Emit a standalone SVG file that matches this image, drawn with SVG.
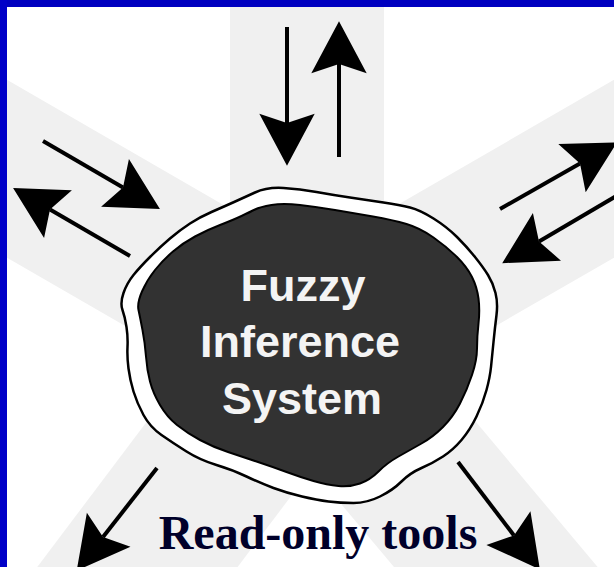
<svg xmlns="http://www.w3.org/2000/svg" width="614" height="567" viewBox="0 0 614 567">
  <defs>
    <style>
      .band { fill: #f0f0f0; }
      .shaft { stroke: #000; stroke-width: 4; fill: none; marker-end: url(#head); }
      .label { font-family: "Liberation Sans", Arial, sans-serif; font-weight: bold; font-size: 45px; fill: #f4f4f4; text-anchor: middle; }
      .caption { font-family: "Liberation Serif", "Times New Roman", serif; font-weight: bold; font-size: 48px; fill: #00002a; text-anchor: middle; }
    </style>
    <!-- barbed arrowhead; origin sits at the notch where the shaft ends -->
    <marker id="head" markerUnits="userSpaceOnUse" markerWidth="60" markerHeight="60" viewBox="-10 -26 50 52" refX="0" refY="0" orient="auto" overflow="visible">
      <path d="M37,0 L-8,-24 L0,0 L-8,24 Z" fill="#000"/>
    </marker>
  </defs>

  <rect width="614" height="567" fill="#ffffff"/>

  <!-- radiating light bands behind the hub -->
  <g id="bands">
    <rect class="band" x="-77" y="-700" width="154" height="700" transform="translate(307,342)"/>
    <rect class="band" x="-77" y="-700" width="154" height="700" transform="translate(307,342) rotate(-60)"/>
    <rect class="band" x="-77" y="-700" width="154" height="700" transform="translate(307,346) rotate(60)"/>
    <rect class="band" x="-80" y="-700" width="160" height="700" transform="translate(307,342) rotate(-143)"/>
    <rect class="band" x="-78" y="-700" width="156" height="700" transform="translate(307,342) rotate(140)"/>
  </g>

  <!-- frame edges -->
  <rect x="0" y="0" width="614" height="7" fill="#0000c0"/>
  <rect x="0" y="0" width="7" height="567" fill="#0000c8"/>

  <g id="connectors">
    <line class="shaft" x1="287" y1="27" x2="287" y2="123"/>
    <line class="shaft" x1="339" y1="157" x2="339" y2="64"/>
    <line class="shaft" x1="43" y1="141" x2="123" y2="187.5"/>
    <line class="shaft" x1="130" y1="256" x2="50" y2="209.5"/>
    <line class="shaft" x1="500" y1="209" x2="580" y2="163.5"/>
    <line class="shaft" x1="618" y1="195" x2="539" y2="241.5"/>
    <line class="shaft" x1="157" y1="468" x2="103" y2="537"/>
    <line class="shaft" x1="458" y1="462" x2="514" y2="535.5"/>
  </g>

  <g id="fis">
    <!-- outer wavy rim -->
    <path fill="#ffffff" stroke="#000" stroke-width="2.5" stroke-linejoin="round" d="
      M255,192.5 Q267,187 283.5,188 Q300,189 316.5,192 Q333,195 350,197.5 Q367,200 383.5,202.5
      Q400,205 410,207.5 Q420,210 433.5,218.5 Q447,227 457,237 Q467,247 475,257 Q483,267 488,275
      Q493,283 495.5,293 Q498,303 496.5,315 Q495,327 493.5,342 Q492,357 491,367 Q490,377 486.5,390
      Q483,403 476.5,416.5 Q470,430 461.5,440 Q453,450 443,456.5 Q433,463 421.5,468 Q410,473 401.5,481.5
      Q393,490 380,496.5 Q367,503 353.5,503 Q340,503 328.5,501.5 Q317,500 302,496.5 Q287,493 273.5,488
      Q260,483 246.5,476.5 Q233,470 216.5,465 Q200,460 186.5,451.5 Q173,443 161.5,435 Q150,427 143.5,415
      Q137,403 133.5,391.5 Q130,380 128.5,368.5 Q127,357 127.5,347 Q128,337 126.5,327 Q125,317 122.5,310
      Q120,303 123.5,293 Q127,283 133.5,275 Q140,267 150,257 Q160,247 170,238.5 Q180,230 190,223.5
      Q200,217 211.5,212 Q223,207 233,202.5 Q243,198 255,192.5 Z"/>
    <!-- dark core -->
    <path fill="#323232" stroke="#000" stroke-width="2" stroke-linejoin="round" d="
      M271.5,205 Q283,203 300,205 Q317,207 335,210 Q353,213 373,216.5 Q393,220 406.5,224 Q420,228 433.5,237.5
      Q447,247 457,257 Q467,267 472,277 Q477,287 478.5,298.5 Q480,310 478.5,323.5 Q477,337 477,348.5
      Q477,360 472,375 Q467,390 460,403.5 Q453,417 443,427 Q433,437 421.5,443.5 Q410,450 398.5,456.5
      Q387,463 378.5,471.5 Q370,480 360,483.5 Q350,487 338.5,486 Q327,485 313.5,481 Q300,477 286.5,472
      Q273,467 258,462 Q243,457 228,452 Q213,447 200,440 Q187,433 177,425 Q167,417 160,405
      Q153,393 150,381.5 Q147,370 146,356.5 Q145,343 142.5,330 Q140,317 138.5,310 Q137,303 142,291.5
      Q147,280 155,270 Q163,260 173,251.5 Q183,243 195,236.5 Q207,230 220,225 Q233,220 241.5,216
      Q250,212 255,209.5 Q260,207 271.5,205 Z"/>
    <text class="label" x="303" y="301">Fuzzy</text>
    <text class="label" x="300" y="357">Inference</text>
    <text class="label" x="302" y="414">System</text>
  </g>

  <g id="caption">
    <text class="caption" x="318" y="549">Read-only tools</text>
  </g>
</svg>
